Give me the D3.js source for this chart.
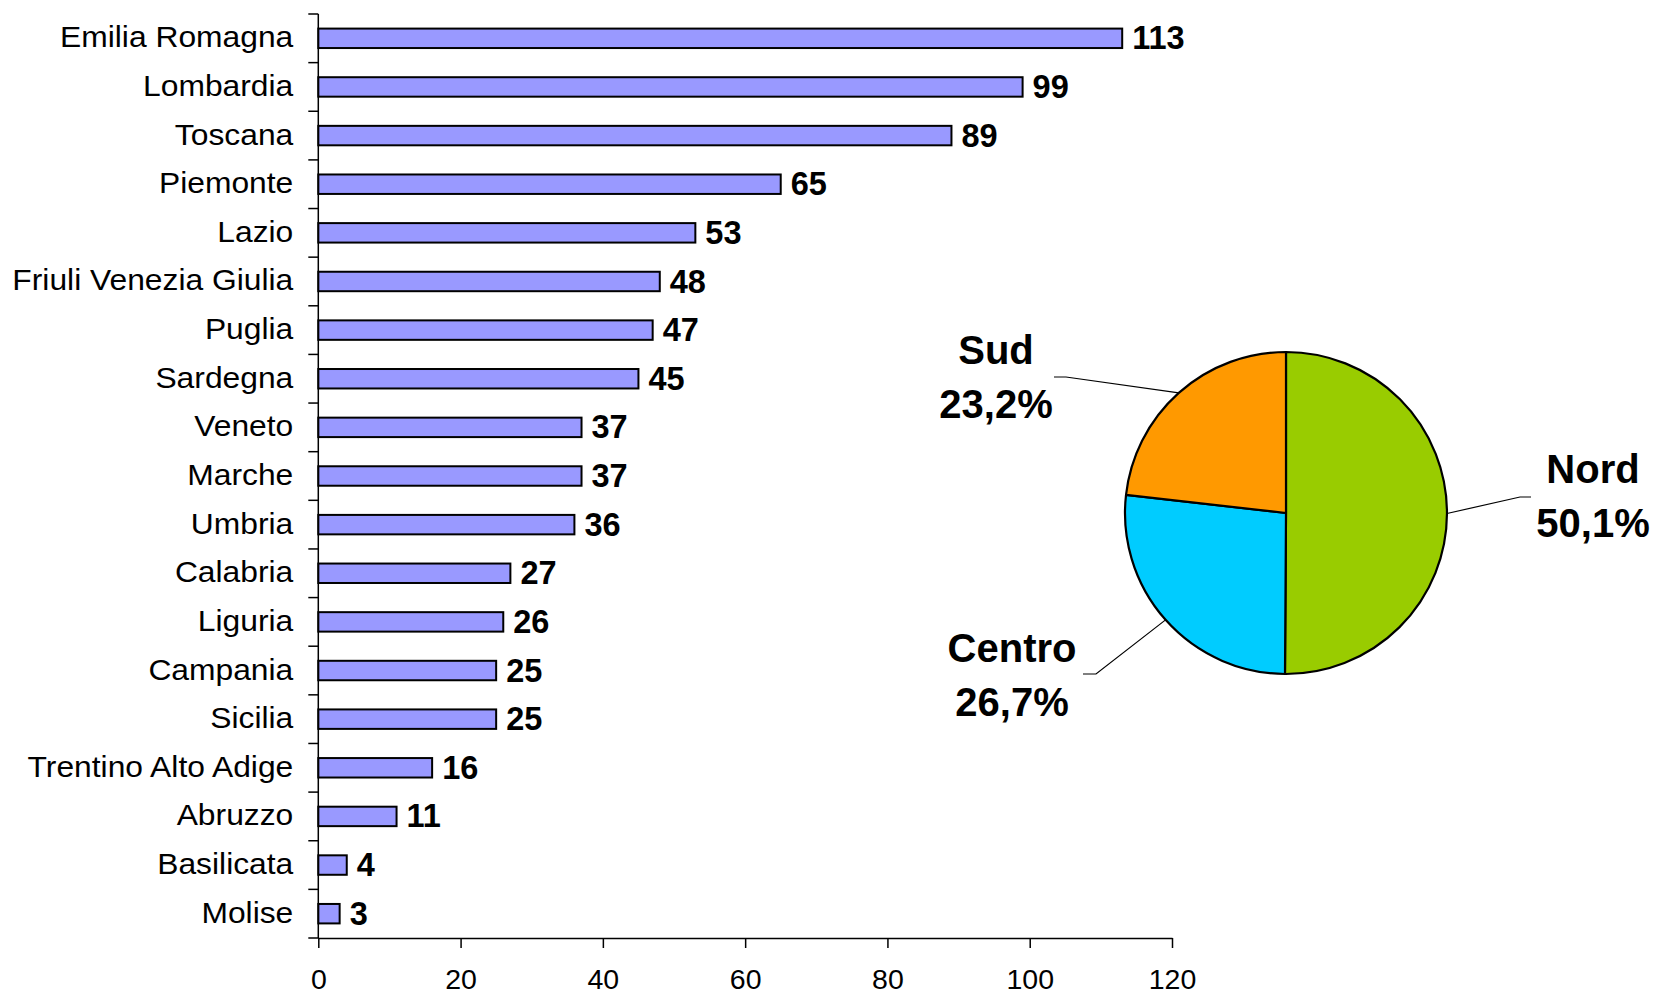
<!DOCTYPE html>
<html>
<head>
<meta charset="utf-8">
<script src="https://cdn.jsdelivr.net/npm/d3@7"></script>
<style>
  html, body { margin: 0; padding: 0; background: #fff; }
  svg { display: block; }
  text { font-family: "Liberation Sans", Arial, sans-serif; fill: #000; }
</style>
</head>
<body>
<svg id="chart" width="1655" height="997"></svg>
<script>
// ---- data ----
const regions = ["Emilia Romagna", "Lombardia", "Toscana", "Piemonte", "Lazio",
  "Friuli Venezia Giulia", "Puglia", "Sardegna", "Veneto", "Marche", "Umbria",
  "Calabria", "Liguria", "Campania", "Sicilia", "Trentino Alto Adige", "Abruzzo",
  "Basilicata", "Molise"];
const counts = [113, 99, 89, 65, 53, 48, 47, 45, 37, 37, 36, 27, 26, 25, 25, 16, 11, 4, 3];
const xTicks = [0, 20, 40, 60, 80, 100, 120];

const areas = ["Nord", "Centro", "Sud"];
const areaShares = [50.1, 26.7, 23.2];
const areaLabels = ["50,1%", "26,7%", "23,2%"];
const areaColors = ["#99CC00", "#00CCFF", "#FF9900"];

// ---- layout ----
const svg = d3.select("#chart");
const plot = { left: 318.3, right: 1172, top: 14, bottom: 938 };

const x = d3.scaleLinear().domain([0, 120]).range([plot.left, plot.right]);
const y = d3.scaleBand().domain(regions).range([plot.top, plot.bottom])
  .paddingInner(0.6).paddingOuter(0.3);
const step = y.step();

const bars = regions.map((r, i) => ({ region: r, value: counts[i] }));

// bars
svg.append("g").selectAll("rect").data(bars).join("rect")
  .attr("x", x(0))
  .attr("y", d => y(d.region))
  .attr("width", d => x(d.value) - x(0))
  .attr("height", y.bandwidth())
  .attr("fill", "#9999FF")
  .attr("stroke", "#000")
  .attr("stroke-width", 2);

// value labels
svg.append("g").selectAll("text").data(bars).join("text")
  .attr("x", d => x(d.value) + 10)
  .attr("y", d => y(d.region) + y.bandwidth() / 2)
  .attr("dy", "0.34em")
  .attr("font-size", 32.5)
  .attr("font-weight", "bold")
  .text(d => d.value);

// category labels (slightly wide, as in the original)
svg.append("g").selectAll("text").data(bars).join("text")
  .attr("transform", d => `translate(${plot.left - 25},${y(d.region) + y.bandwidth() / 2}) scale(1.06,1)`)
  .attr("text-anchor", "end")
  .attr("dy", "0.3em")
  .attr("font-size", 30)
  .text(d => d.region);

// y axis line and ticks at category boundaries
const yAxis = svg.append("g");
yAxis.append("line")
  .attr("x1", x(0)).attr("x2", x(0))
  .attr("y1", plot.top).attr("y2", plot.bottom)
  .attr("stroke", "#000").attr("stroke-width", 1.5);
const boundaries = regions.map(r => y(r) - step * y.paddingInner() / 2).concat([plot.bottom]);
yAxis.selectAll("line.tick").data(boundaries).join("line")
  .attr("class", "tick")
  .attr("x1", x(0) - 10).attr("x2", x(0))
  .attr("y1", d => d).attr("y2", d => d)
  .attr("stroke", "#000").attr("stroke-width", 1.5);

// x axis
const xAxis = d3.axisBottom(x).tickValues(xTicks).tickSize(10).tickSizeOuter(0).tickPadding(13);
const gx = svg.append("g").attr("transform", `translate(0,${plot.bottom})`).call(xAxis);
gx.select(".domain").attr("stroke", "#000").attr("stroke-width", 1.5);
gx.selectAll(".tick line").attr("stroke", "#000").attr("stroke-width", 1.5);
gx.selectAll(".tick text")
  .attr("font-family", "'Liberation Sans', Arial, sans-serif")
  .attr("font-size", 28.5)
  .attr("fill", "#000")
  .attr("dy", "0.98em");

// ---- pie ----
const cx = 1286, cy = 513, r = 161;
const pieData = d3.pie().sort(null).value(d => d.share)(
  areas.map((a, i) => ({ name: a, share: areaShares[i], label: areaLabels[i], color: areaColors[i] })));
const arc = d3.arc().innerRadius(0).outerRadius(r);
const gp = svg.append("g").attr("transform", `translate(${cx},${cy})`);
gp.selectAll("path").data(pieData).join("path")
  .attr("d", arc)
  .attr("fill", d => d.data.color)
  .attr("stroke", "#000")
  .attr("stroke-width", 2.2)
  .attr("stroke-linejoin", "round");

// label placement (layout, relative to pie center)
const labelPos = {
  Nord:   { tx: 307,  elbow: [234, -16], end: [245, -16] },
  Centro: { tx: -274, elbow: [-190, 161], end: [-203, 161] },
  Sud:    { tx: -290, elbow: [-220, -136], end: [-232, -136] }
};
const nameBase = { Nord: -30, Centro: 149, Sud: -149 };

pieData.forEach(d => {
  const p = labelPos[d.data.name];
  const mid = (d.startAngle + d.endAngle) / 2;
  const edge = [Math.sin(mid) * r, -Math.cos(mid) * r];
  gp.append("polyline")
    .attr("points", [edge, p.elbow, p.end].map(q => q.join(",")).join(" "))
    .attr("fill", "none").attr("stroke", "#000").attr("stroke-width", 1.2);
  const t = gp.append("text")
    .attr("text-anchor", "middle")
    .attr("font-size", 40)
    .attr("font-weight", "bold");
  t.append("tspan").attr("x", p.tx).attr("y", nameBase[d.data.name]).text(d.data.name);
  t.append("tspan").attr("x", p.tx).attr("y", nameBase[d.data.name] + 54).text(d.data.label);
});
</script>
</body>
</html>
